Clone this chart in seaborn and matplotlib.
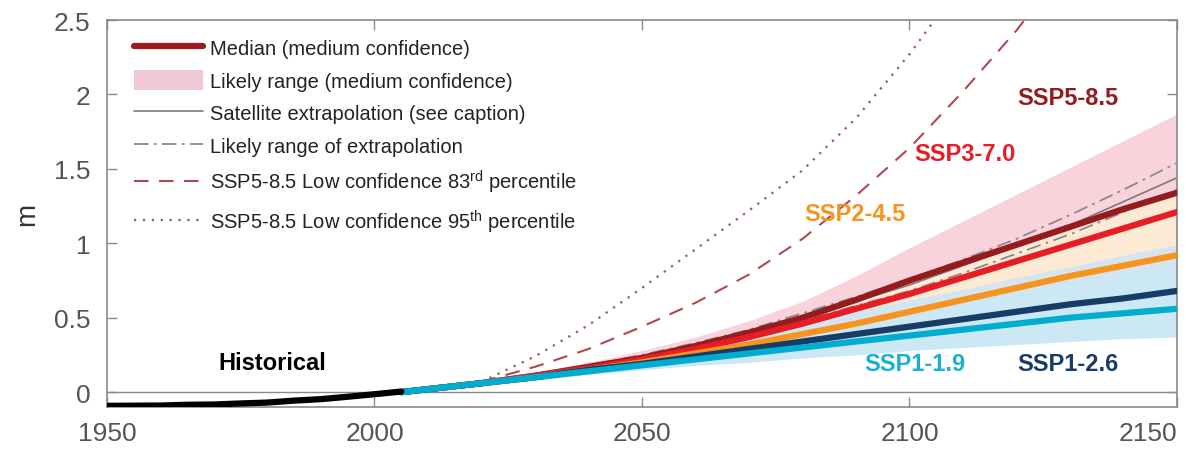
import pandas as pd
import matplotlib.pyplot as plt
import seaborn as sns
from matplotlib.lines import Line2D
from matplotlib.patches import Patch

# Observed sea level (m)
hist_years = [1950, 1955, 1960, 1965, 1970, 1975, 1980, 1985, 1990, 1995, 2000, 2005]
hist_vals = [-0.092, -0.091, -0.090, -0.085, -0.083, -0.076, -0.070, -0.057, -0.047, -0.031, -0.014, 0.004]

# Projection years
years = [2005, 2020, 2030, 2040, 2050, 2060, 2070, 2080, 2090, 2100, 2110, 2120, 2130, 2140, 2150]

# Medians
ssp119 = [0.0, 0.06, 0.10, 0.14, 0.18, 0.22, 0.26, 0.30, 0.34, 0.38, 0.42, 0.46, 0.50, 0.53, 0.56]
ssp126 = [0.0, 0.06, 0.10, 0.15, 0.19, 0.24, 0.29, 0.34, 0.39, 0.44, 0.49, 0.54, 0.59, 0.63, 0.68]
ssp245 = [0.0, 0.06, 0.10, 0.15, 0.20, 0.26, 0.32, 0.39, 0.46, 0.54, 0.62, 0.70, 0.78, 0.85, 0.92]
ssp370 = [0.0, 0.06, 0.11, 0.16, 0.22, 0.29, 0.37, 0.46, 0.56, 0.66, 0.77, 0.88, 0.99, 1.10, 1.21]
ssp585 = [0.0, 0.06, 0.11, 0.17, 0.23, 0.31, 0.40, 0.50, 0.62, 0.75, 0.87, 0.99, 1.11, 1.23, 1.34]

# Likely ranges
ssp585_lo = [0.0, 0.05, 0.09, 0.14, 0.20, 0.26, 0.33, 0.42, 0.52, 0.63, 0.70, 0.77, 0.84, 0.91, 0.98]
ssp585_hi = [0.0, 0.07, 0.13, 0.20, 0.28, 0.37, 0.48, 0.61, 0.78, 0.97, 1.15, 1.33, 1.51, 1.69, 1.87]
ssp245_lo = [0.0, 0.05, 0.09, 0.13, 0.17, 0.21, 0.26, 0.32, 0.38, 0.44, 0.48, 0.53, 0.57, 0.62, 0.66]
ssp245_hi = [0.0, 0.07, 0.12, 0.18, 0.26, 0.34, 0.43, 0.53, 0.64, 0.76, 0.87, 0.98, 1.10, 1.21, 1.32]
ssp126_lo = [0.0, 0.05, 0.08, 0.12, 0.16, 0.19, 0.22, 0.25, 0.29, 0.32, 0.35, 0.38, 0.41, 0.44, 0.46]
ssp126_hi = [0.0, 0.07, 0.12, 0.18, 0.25, 0.32, 0.39, 0.46, 0.54, 0.62, 0.69, 0.77, 0.84, 0.92, 0.99]
ssp119_lo = [0.0, 0.05, 0.08, 0.12, 0.15, 0.18, 0.20, 0.23, 0.25, 0.28, 0.30, 0.32, 0.34, 0.36, 0.37]
ssp119_hi = [0.0, 0.07, 0.12, 0.17, 0.23, 0.29, 0.35, 0.42, 0.48, 0.55, 0.61, 0.67, 0.74, 0.80, 0.86]

# Satellite extrapolation and its likely range
sat_mid = [0.0, 0.06, 0.11, 0.18, 0.24, 0.32, 0.40, 0.51, 0.61, 0.72, 0.85, 0.98, 1.12, 1.28, 1.44]
sat_hi = [0.0, 0.06, 0.11, 0.18, 0.25, 0.33, 0.42, 0.53, 0.64, 0.76, 0.89, 1.03, 1.19, 1.36, 1.54]
sat_lo = [0.0, 0.06, 0.10, 0.17, 0.23, 0.30, 0.38, 0.48, 0.58, 0.68, 0.80, 0.93, 1.06, 1.21, 1.36]

# Low confidence SSP5-8.5 percentiles
lc_years = [2020, 2030, 2040, 2050, 2060, 2070, 2080, 2090, 2100, 2110, 2120, 2130]
lc_p83 = [0.07, 0.17, 0.29, 0.44, 0.60, 0.79, 1.03, 1.32, 1.64, 2.02, 2.43, 2.90]
lc_p95 = [0.07, 0.24, 0.45, 0.70, 0.96, 1.22, 1.49, 1.84, 2.27, 2.76, 3.30, 3.90]

scenarios = ["SSP5-8.5", "SSP3-7.0", "SSP2-4.5", "SSP1-2.6", "SSP1-1.9"]
colors = {"SSP1-1.9": "#00ADCF", "SSP1-2.6": "#173C66", "SSP2-4.5": "#F79420",
          "SSP3-7.0": "#E71D25", "SSP5-8.5": "#951B1E"}

sns.set_theme(style="white")
plt.rcParams["font.family"] = ["Liberation Sans", "DejaVu Sans"]
plt.rcParams["mathtext.fontset"] = "custom"
plt.rcParams["mathtext.rm"] = "Liberation Sans"

fig = plt.figure(figsize=(11.86, 4.6), dpi=100)
ax = fig.add_axes([0.0902, 0.113, 0.9022, 0.8413])

ax.axhline(0, color="#8a8a8a", lw=1.0, zorder=0.5)

# Likely ranges
ax.fill_between(years, ssp585_lo, ssp585_hi, color="#F8D3DC", lw=0, zorder=1)
ax.fill_between(years, ssp245_lo, ssp245_hi, color="#FDEAD5", lw=0, zorder=1.1)
ax.fill_between(years, ssp126_lo, ssp126_hi, color="#D5E5EF", lw=0, zorder=1.2)
ax.fill_between(years, ssp119_lo, ssp119_hi, color="#CBE8F4", lw=0, zorder=1.3)

# Satellite extrapolation
ax.plot(years, sat_mid, color="#7a7a7a", lw=1.2, zorder=2)
ax.plot(years, sat_hi, color="#8a8a8a", lw=1.3, ls=(0, (8, 3, 1.5, 3)), zorder=2)
ax.plot(years, sat_lo, color="#8a8a8a", lw=1.3, ls=(0, (8, 3, 1.5, 3)), zorder=2)

# Low confidence lines
ax.plot(lc_years, lc_p83, color="#B2474D", lw=1.5, ls=(0, (7, 5)), zorder=2.5)
ax.plot(lc_years, lc_p95, color="#9A5A5E", lw=1.6, ls=(0, (1, 3)), zorder=2.5)

# Medians
med = pd.DataFrame({
    "year": years * 5,
    "value": ssp585 + ssp370 + ssp245 + ssp126 + ssp119,
    "scenario": [s for s in scenarios for _ in years],
})
sns.lineplot(data=med, x="year", y="value", hue="scenario", hue_order=scenarios,
             palette=colors, linewidth=4.5, estimator=None, legend=False, ax=ax, zorder=3)

# Historical
sns.lineplot(x=hist_years, y=hist_vals, color="black", linewidth=4.5, ax=ax, zorder=4)

# Scenario labels
lab_kw = dict(fontsize=17, fontweight="bold", ha="center", va="center")
ax.text(2129.6, 1.98, "SSP5-8.5", color=colors["SSP5-8.5"], **lab_kw)
ax.text(2110.4, 1.60, "SSP3-7.0", color=colors["SSP3-7.0"], **lab_kw)
ax.text(2089.8, 1.20, "SSP2-4.5", color=colors["SSP2-4.5"], **lab_kw)
ax.text(2101.0, 0.19, "SSP1-1.9", color="#1BB0D3", **lab_kw)
ax.text(2129.6, 0.19, "SSP1-2.6", color=colors["SSP1-2.6"], **lab_kw)
ax.text(1980.8, 0.20, "Historical", color="black", **lab_kw)

ax.set_xlim(1950, 2150)
ax.set_ylim(-0.1, 2.5)
ax.set_xticks([1950, 2000, 2050, 2100, 2150], labels=["1950", "2000", "2050", "2100", "2150"])
ax.set_yticks([0, 0.5, 1, 1.5, 2, 2.5], labels=["0", "0.5", "1", "1.5", "2", "2.5"])
ax.get_xticklabels()[-1].set_horizontalalignment("right")
ax.tick_params(direction="in", length=7, width=1, color="#8a8a8a", labelsize=19,
               labelcolor="#555555", top=True, right=True, bottom=True, left=True)
ax.tick_params(axis="y", pad=12)
ax.tick_params(axis="x", pad=10)
for sp in ax.spines.values():
    sp.set_color("#8a8a8a")
    sp.set_linewidth(1.2)
ax.set_xlabel("")
ax.set_ylabel("m", fontsize=20, color="#333333", labelpad=10)

handles = [
    Line2D([], [], color="#9B1C1F", lw=4.5),
    Patch(facecolor="#EECBD2", edgecolor="none"),
    Line2D([], [], color="#7a7a7a", lw=1.2),
    Line2D([], [], color="#8a8a8a", lw=1.3, ls=(0, (8, 3, 1.5, 3))),
    Line2D([], [], color="#B2474D", lw=1.5, ls=(0, (7, 5))),
    Line2D([], [], color="#9A5A5E", lw=1.6, ls=(0, (1, 3))),
]
labels = [
    "Median (medium confidence)",
    "Likely range (medium confidence)",
    "Satellite extrapolation (see caption)",
    "Likely range of extrapolation",
    r"SSP5-8.5 Low confidence 83$^{\mathrm{rd}}$ percentile",
    r"SSP5-8.5 Low confidence 95$^{\mathrm{th}}$ percentile",
]
ax.legend(handles, labels, loc="upper left", bbox_to_anchor=(0.018, 0.975), frameon=False,
          fontsize=14.5, handlelength=3.4, handleheight=1.1, handletextpad=0.35,
          labelspacing=0.6, borderaxespad=0, labelcolor="#222222")

plt.savefig("out.png", dpi=100)
